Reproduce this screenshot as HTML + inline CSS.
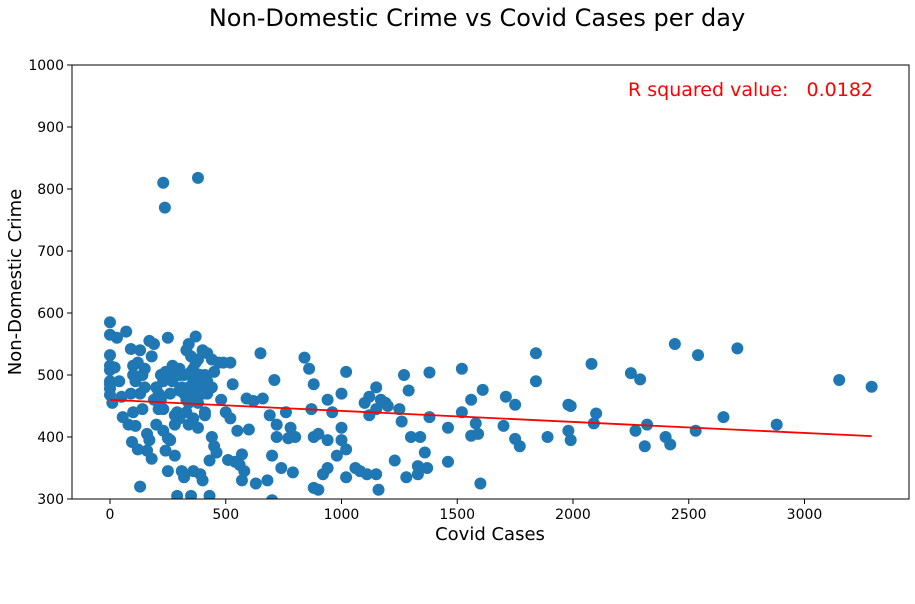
<!DOCTYPE html>
<html><head><meta charset="utf-8"><style>
body{margin:0;background:#fff;}
svg{display:block;font-family:"DejaVu Sans","Liberation Sans",sans-serif;}
</style></head><body>
<svg id="chart" width="915" height="604">
<text x="477" y="26" text-anchor="middle" font-size="24" fill="#000">Non-Domestic Crime vs Covid Cases per day</text>
<g id="marks"></g>
<rect x="72" y="65" width="837" height="434" fill="none" stroke="#000" stroke-width="1"/>
<g id="axes"></g>
<text x="490" y="540" text-anchor="middle" font-size="18">Covid Cases</text>
<text transform="translate(21,282) rotate(-90)" text-anchor="middle" font-size="18">Non-Domestic Crime</text>
<text x="873" y="96" text-anchor="end" font-size="19" fill="#ff0000" style="white-space:pre">R squared value:&#160;&#160;&#160;0.0182</text>
</svg>
<script>
const xs=[0,0,0,0,0,0,0,0,0,10,20,30,40,50,55,70,80,90,90,95,100,100,100,110,110,120,120,130,130,130,140,140,150,150,160,160,170,170,180,180,190,190,200,200,210,210,220,220,230,230,240,240,250,250,250,260,260,270,270,280,280,290,290,300,300,310,310,320,320,330,330,340,340,350,350,350,360,360,360,370,370,380,380,380,390,390,400,400,410,410,420,420,430,430,440,440,450,450,460,470,480,490,500,510,520,520,530,540,550,560,570,570,580,590,600,620,630,650,660,680,690,700,700,710,720,720,740,760,770,780,790,800,840,860,870,880,880,880,900,900,920,940,940,940,960,980,1000,1000,1000,1020,1020,1020,1060,1080,1100,1110,1120,1120,1150,1150,1150,1160,1170,1190,1200,1230,1250,1260,1270,1280,1290,1300,1330,1330,1340,1360,1370,1380,1380,1460,1460,1520,1520,1560,1560,1580,1590,1600,1610,1700,1710,1750,1750,1770,1840,1840,1890,1980,1990,1990,1980,2080,2090,2100,2250,2270,2290,2310,2320,2400,2420,2440,2530,2540,2650,2710,2880,3150,3290,300,320,340,360,380,400,420,400,340,300,260,230,380,440,280,330,360,410,230,237,380];
const ys=[585,565,532,515,508,490,485,478,468,455,512,560,490,465,432,570,420,542,470,392,515,500,440,418,490,380,520,320,470,540,445,500,510,480,405,378,395,555,530,365,550,460,420,480,470,445,500,460,490,410,505,378,560,345,398,395,470,515,490,370,420,305,440,430,510,345,480,335,500,460,540,550,420,305,530,505,470,345,490,562,520,480,455,415,340,500,330,540,500,435,535,470,305,362,480,400,505,385,375,520,460,520,440,363,520,430,485,360,410,355,372,330,345,462,412,458,325,535,462,330,435,298,370,492,400,420,350,440,398,415,343,400,528,510,445,485,400,318,405,315,340,460,395,350,440,370,470,415,395,505,380,335,350,345,455,340,435,465,480,445,340,315,460,455,450,362,445,425,500,335,475,400,353,340,400,375,350,504,432,415,360,510,440,460,402,422,405,325,476,418,465,397,452,385,535,490,400,452,450,395,410,518,422,438,503,410,493,385,420,400,388,550,410,532,432,543,420,492,481,500,470,480,510,500,485,490,470,455,475,500,445,525,525,435,440,430,440,810,770,818];
const xTicks=[0,500,1000,1500,2000,2500,3000];
const yTicks=[300,400,500,600,700,800,900,1000];
const NS="http://www.w3.org/2000/svg";
const X=v=>110+v*0.2315;
const Y=v=>499-(v-300)*0.62;
const marks=document.getElementById('marks');
const axes=document.getElementById('axes');
const clip=document.createElementNS(NS,'clipPath');clip.setAttribute('id','pc');
const cr=document.createElementNS(NS,'rect');cr.setAttribute('x',72);cr.setAttribute('y',65);cr.setAttribute('width',837);cr.setAttribute('height',434);
clip.appendChild(cr);document.getElementById('chart').appendChild(clip);
marks.setAttribute('clip-path','url(#pc)');
for(let i=0;i<xs.length;i++){
 const c=document.createElementNS(NS,'circle');
 c.setAttribute('cx',X(xs[i]));c.setAttribute('cy',Y(ys[i]));c.setAttribute('r',6);c.setAttribute('fill','#1f77b4');
 
 
 marks.appendChild(c);
}
let n=xs.length,mx=0,my=0;for(let i=0;i<n;i++){mx+=xs[i];my+=ys[i];}mx/=n;my/=n;
let sxy=0,sxx=0;for(let i=0;i<n;i++){sxy+=(xs[i]-mx)*(ys[i]-my);sxx+=(xs[i]-mx)**2;}
const b=sxy/sxx,a=my-b*mx;
const x0=Math.min(...xs),x1=Math.max(...xs);
const ln=document.createElementNS(NS,'line');
ln.setAttribute('x1',X(x0));ln.setAttribute('y1',Y(a+b*x0));ln.setAttribute('x2',X(x1));ln.setAttribute('y2',Y(a+b*x1));
ln.setAttribute('stroke','#ff0000');ln.setAttribute('stroke-width',1.8);


marks.appendChild(ln);
xTicks.forEach(t=>{
 const l=document.createElementNS(NS,'line');l.setAttribute('x1',X(t));l.setAttribute('x2',X(t));l.setAttribute('y1',499);l.setAttribute('y2',504);l.setAttribute('stroke','#000');
 
 
 axes.appendChild(l);
 const tx=document.createElementNS(NS,'text');tx.setAttribute('x',X(t));tx.setAttribute('y',519);tx.setAttribute('text-anchor','middle');tx.setAttribute('font-size',14);tx.textContent=t;
 
 
 axes.appendChild(tx);
});
yTicks.forEach(t=>{
 const l=document.createElementNS(NS,'line');l.setAttribute('x1',67);l.setAttribute('x2',72);l.setAttribute('y1',Y(t));l.setAttribute('y2',Y(t));l.setAttribute('stroke','#000');
 
 
 axes.appendChild(l);
 const tx=document.createElementNS(NS,'text');tx.setAttribute('x',64);tx.setAttribute('y',Y(t)+5);tx.setAttribute('text-anchor','end');tx.setAttribute('font-size',14);tx.textContent=t;
 
 
 axes.appendChild(tx);
});
</script>
</body></html>
